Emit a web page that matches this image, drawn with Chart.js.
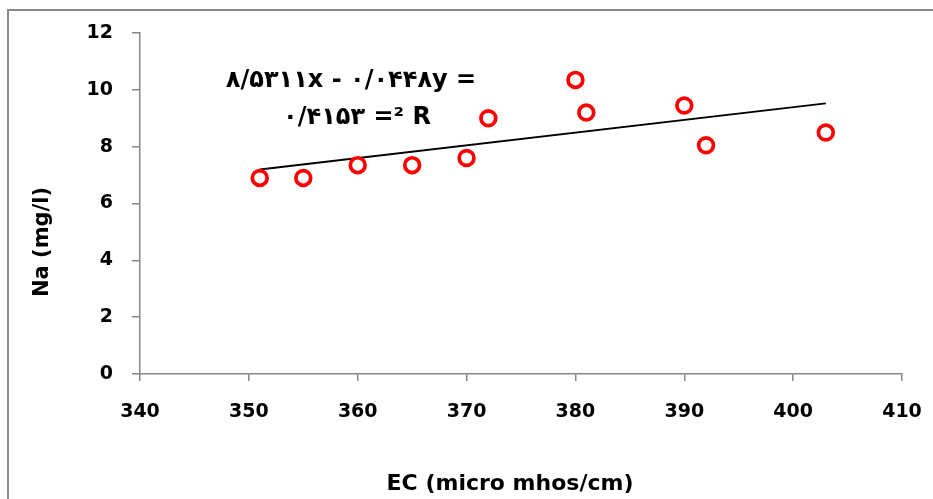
<!DOCTYPE html>
<html>
<head>
<meta charset="utf-8">
<script src="https://cdn.jsdelivr.net/npm/chart.js@4/dist/chart.umd.min.js"></script>
<style>
  html, body { margin: 0; padding: 0; background: #ffffff; }
  #wrap { width: 933px; height: 499px; position: relative; }
</style>
</head>
<body>
<div id="wrap"><canvas id="c" width="933" height="499"></canvas></div>
<script>
// EC (micro mhos/cm) against Na (mg/l)
const ecValues = [351, 355, 360, 365, 370, 372, 380, 381, 390, 392, 403];
const naValues = [6.9, 6.9, 7.35, 7.35, 7.6, 9.0, 10.35, 9.2, 9.45, 8.05, 8.5];

// linear trend: y = 0.0448x - 8.5311, R² = 0.4153
const trendSlope = 0.0448;
const trendIntercept = -8.5311;

const xTicks = [340, 350, 360, 370, 380, 390, 400, 410];
const yTicks = [0, 2, 4, 6, 8, 10, 12];

const xTitle = 'EC (micro mhos/cm)';
const yTitle = 'Na (mg/l)';
const equationLines = ['\u06F8/\u06F5\u06F3\u06F1\u06F1x - \u06F0/\u06F0\u06F4\u06F4\u06F8y =',
                       '\u06F0/\u06F4\u06F1\u06F5\u06F3 =\u00B2 R'];

const FONT = '"DejaVu Sans", "Liberation Sans", sans-serif';
const AXIS_GRAY = '#868686';

const scatterPoints = ecValues.map((x, i) => ({ x: x, y: naValues[i] }));
const xLo = Math.min(...ecValues), xHi = Math.max(...ecValues);
const trendPoints = [xLo, xHi].map(x => ({ x: x, y: trendSlope * x + trendIntercept }));

const decorations = {
  id: 'decorations',
  beforeDraw(chart) {
    const ctx = chart.ctx;
    ctx.save();
    ctx.fillStyle = '#ffffff';
    ctx.fillRect(0, 0, chart.width, chart.height);
    // outer frame (runs off the right and bottom edges)
    ctx.strokeStyle = '#8a8a8a';
    ctx.lineWidth = 2;
    ctx.strokeRect(8, 10, chart.width + 20, chart.height + 20);
    ctx.restore();
  },
  afterDraw(chart) {
    const ctx = chart.ctx;
    const area = chart.chartArea;
    ctx.save();
    ctx.fillStyle = '#000000';
    ctx.direction = 'ltr';
    ctx.textAlign = 'center';
    ctx.textBaseline = 'middle';
    // x axis title
    ctx.font = 'bold 22px ' + FONT;
    ctx.fillText(xTitle, (area.left + area.right) / 2 - 11, 484);
    // y axis title
    ctx.font = 'bold 21px ' + FONT;
    ctx.save();
    ctx.translate(43, 242);
    ctx.rotate(-Math.PI / 2);
    ctx.fillText(yTitle, 0, 0);
    ctx.restore();
    // trendline equation
    ctx.font = 'bold 24px ' + FONT;
    ctx.fillText(equationLines[0], 351, 81);
    ctx.fillText(equationLines[1], 357, 118);
    ctx.restore();
  }
};

new Chart(document.getElementById('c'), {
  type: 'scatter',
  data: {
    datasets: [
      {
        type: 'line',
        label: 'trend',
        data: trendPoints,
        borderColor: '#000000',
        borderWidth: 2,
        pointRadius: 0,
        fill: false,
        order: 2
      },
      {
        label: 'Na',
        data: scatterPoints,
        pointStyle: 'circle',
        pointRadius: 7.4,
        pointBorderWidth: 3.7,
        pointBorderColor: '#ff0000',
        pointBackgroundColor: '#ffffff',
        showLine: false,
        order: 1
      }
    ]
  },
  options: {
    responsive: false,
    animation: false,
    layout: { padding: { left: 0, right: 31, top: 33, bottom: 0 } },
    plugins: {
      legend: { display: false },
      tooltip: { enabled: false }
    },
    scales: {
      x: {
        type: 'linear',
        min: xTicks[0],
        max: xTicks[xTicks.length - 1],
        afterBuildTicks(scale) { scale.ticks = xTicks.map(v => ({ value: v })); },
        afterFit(scale) {
          scale.height = 125;
          scale.paddingLeft = 0;
          scale.paddingRight = 0;
        },
        grid: { display: true, drawOnChartArea: false, drawTicks: true, tickLength: 7, color: AXIS_GRAY, lineWidth: 1.5 },
        border: { display: true, color: AXIS_GRAY, width: 1.5 },
        ticks: { color: '#000000', padding: 20, font: { family: FONT, size: 19, weight: 'bold' }, maxRotation: 0 }
      },
      y: {
        type: 'linear',
        min: yTicks[0],
        max: yTicks[yTicks.length - 1],
        afterBuildTicks(scale) { scale.ticks = yTicks.map(v => ({ value: v })); },
        afterFit(scale) {
          scale.width = 140;
          scale.paddingTop = 0;
          scale.paddingBottom = 0;
        },
        grid: { display: true, drawOnChartArea: false, drawTicks: true, tickLength: 8, color: AXIS_GRAY, lineWidth: 1.5 },
        border: { display: true, color: AXIS_GRAY, width: 1.5 },
        ticks: { color: '#000000', padding: 19, font: { family: FONT, size: 19, weight: 'bold' } }
      }
    }
  },
  plugins: [decorations]
});
</script>
</body>
</html>
